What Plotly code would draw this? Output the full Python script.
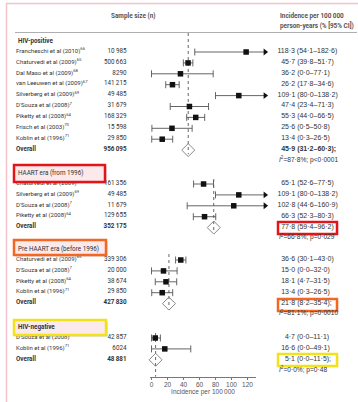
import plotly.graph_objects as go

# ---------------- data ----------------
HIVPOS_STUDIES = ["Francheschi et al (2010)", "Chaturvedi et al (2009)", "Dal Maso et al (2009)",
                  "van Leeuwen et al (2009)", "Silverberg et al (2009)", "D'Souza et al (2008)",
                  "Piketty et al (2008)", "Frisch et al (2003)", "Koblin et al (1996)"]
HIVPOS_REFS = ["66", "65", "68", "67", "69", "7", "64", "70", "71"]
HIVPOS_N = [10985, 500663, 8290, 141215, 49485, 31679, 168329, 15598, 29850]
HIVPOS_EST = [118.3, 45.7, 36.2, 26.2, 109.1, 47.4, 55.3, 25.6, 13.4]
HIVPOS_LO = [54.1, 39.8, 0.0, 17.8, 80.0, 23.4, 44.0, 0.5, 0.3]
HIVPOS_HI = [182.6, 51.7, 77.1, 34.6, 138.2, 71.3, 66.5, 50.8, 26.5]
HIVPOS_TOTAL_N = 956095
HIVPOS_POOLED = [45.9, 31.2, 60.3]
HIVPOS_HET = ["87·8%", "p&lt;0·0001"]

HAART_STUDIES = ["Chaturvedi et al (2009)", "Silverberg et al (2009)", "D'Souza et al (2008)",
                 "Piketty et al (2008)"]
HAART_REFS = ["65", "69", "7", "64"]
HAART_N = [161356, 49485, 11679, 129655]
HAART_EST = [65.1, 109.1, 102.8, 66.3]
HAART_LO = [52.6, 80.0, 44.6, 52.3]
HAART_HI = [77.5, 138.2, 160.9, 80.3]
HAART_TOTAL_N = 352175
HAART_POOLED = [77.8, 59.4, 96.2]
HAART_HET = ["66·8%", "p=0·029"]

PRE_STUDIES = ["Chaturvedi et al (2009)", "D'Souza et al (2008)", "Piketty et al (2008)",
               "Koblin et al (1996)"]
PRE_REFS = ["65", "7", "64", "71"]
PRE_N = [339306, 20000, 38674, 29850]
PRE_EST = [36.6, 15.0, 18.1, 13.4]
PRE_LO = [30.1, 0.0, 4.7, 0.3]
PRE_HI = [43.0, 32.0, 31.5, 26.5]
PRE_TOTAL_N = 427830
PRE_POOLED = [21.8, 8.2, 35.4]
PRE_HET = ["81·1%", "p=0·0010"]

NEG_STUDIES = ["D'Souza et al (2008)", "Koblin et al (1996)"]
NEG_REFS = ["7", "71"]
NEG_N = [42857, 6024]
NEG_EST = [4.7, 16.6]
NEG_LO = [0.0, 0.0]
NEG_HI = [11.1, 49.1]
NEG_TOTAL_N = 48881
NEG_POOLED = [5.1, 0.0, 11.5]
NEG_HET = ["0·0%", "p=0·48"]

GROUP_TITLES = ["<b>HIV-positive</b>", "HAART era (from 1996)", "Pre HAART era (before 1996)",
                "<b>HIV-negative</b>"]
POOLED_SUFFIX = [";", "", ";", ";"]
AXIS_TICKS = [0, 20, 40, 60, 80, 100, 120]
AXIS_TITLE = "Incidence per 100\u2009000"
COL_SAMPLE = "Sample size (n)"
COL_INC = ["Incidence per 100\u2009000", "person-years (% [95% CI])"]

GROUPS = [
    dict(title=GROUP_TITLES[0], studies=HIVPOS_STUDIES, refs=HIVPOS_REFS, n=HIVPOS_N, est=HIVPOS_EST,
         lo=HIVPOS_LO, hi=HIVPOS_HI, total=HIVPOS_TOTAL_N, pooled=HIVPOS_POOLED, het=HIVPOS_HET),
    dict(title=GROUP_TITLES[1], studies=HAART_STUDIES, refs=HAART_REFS, n=HAART_N, est=HAART_EST,
         lo=HAART_LO, hi=HAART_HI, total=HAART_TOTAL_N, pooled=HAART_POOLED, het=HAART_HET),
    dict(title=GROUP_TITLES[2], studies=PRE_STUDIES, refs=PRE_REFS, n=PRE_N, est=PRE_EST,
         lo=PRE_LO, hi=PRE_HI, total=PRE_TOTAL_N, pooled=PRE_POOLED, het=PRE_HET),
    dict(title=GROUP_TITLES[3], studies=NEG_STUDIES, refs=NEG_REFS, n=NEG_N, est=NEG_EST,
         lo=NEG_LO, hi=NEG_HI, total=NEG_TOTAL_N, pooled=NEG_POOLED, het=NEG_HET),
]

# ---------------- layout constants ----------------
W, H = 358, 402
X0_PX, PX_PER = 151.5, 0.8          # pixel of value 0, pixels per unit
AX_L, AX_R = 150.0, 256.0            # visible axis extent (px)
AXIS_Y = 376.7
CLIP_AT = 131.0                      # CIs beyond this get an arrow
ARROW_X = 142.0
HEADER_Y = [41, 173, 249, 327]
DASH_TOP = [33, 179, 254, 333]
FIRST_OFF, STEP = 11.0, 10.9
NAME_X, N_X, CI_X, DIGIT_W = 16, 126.5, 277.5, 3.7

NARROW = "Roboto, sans-serif"
REG = "Liberation Sans, Arial, sans-serif"
TXT = "#333333"
FS_L = 6.0   # left columns
FS_R = 7     # incidence column


def fmt1(v):
    return f"{v:.1f}".replace(".", "·")


def fmt_n(n):
    s = f"{n:,}"
    return s.replace(",", "\u2009") if n >= 10000 else s.replace(",", "")


def v_range(a_px, b_px):
    return [(a_px - X0_PX) / PX_PER, (b_px - X0_PX) / PX_PER]


fig = go.Figure()

wx, wy = [], []
cap_x, cap_y = [], []
arr_x, arr_y = [], []
sq_x, sq_y = [], []
dia_x, dia_y = [], []
name_t, name_y = [], []
n_t, n_y = [], []
ci_t, ci_xp, ci_y = [], [], []
ov_n_t, ov_y = [], []
pool_t, pool_xp = [], []
het_t, het_y = [], []
annots = []

for gi, g in enumerate(GROUPS):
    hy = HEADER_Y[gi]
    annots.append(dict(x=NAME_X, y=hy, xref="x3", yref="y", text=g["title"], showarrow=False,
                       xanchor="left", yanchor="middle",
                       font=dict(family=NARROW, size=6.3, color=TXT)))
    k = len(g["studies"])
    for i in range(k):
        y = hy + FIRST_OFF + i * STEP
        e, lo, hi = g["est"][i], g["lo"][i], g["hi"][i]
        right = hi if hi <= CLIP_AT else ARROW_X
        wx += [lo, right, None]
        wy += [y, y, None]
        cap_x.append(lo); cap_y.append(y)
        if hi <= CLIP_AT:
            cap_x.append(hi); cap_y.append(y)
        else:
            arr_x.append(ARROW_X); arr_y.append(y)
        sq_x.append(e); sq_y.append(y)
        name_t.append(f"{g['studies'][i]}<sup>{g['refs'][i]}</sup>")
        name_y.append(y - 0.8)
        n_t.append(fmt_n(g["n"][i])); n_y.append(y - 0.8)
        ci_t.append(f"{fmt1(e)} ({fmt1(lo)}–{fmt1(hi)})")
        ci_xp.append(CI_X + (3 - len(str(int(e)))) * DIGIT_W)
        ci_y.append(y - 0.8)
    oy = hy + FIRST_OFF + k * STEP
    pe, plo, phi = g["pooled"]
    dia_x.append(pe); dia_y.append(oy)
    ov_n_t.append(fmt_n(g["total"])); ov_y.append(oy - 0.8)
    ptxt = f"{fmt1(pe)} ({fmt1(plo)}–{fmt1(phi)}){POOLED_SUFFIX[gi]}"
    pool_t.append(f"<b>{ptxt}</b>" if gi == 0 else ptxt)
    pool_xp.append(CI_X + (3 - len(str(int(pe)))) * DIGIT_W)
    het_t.append(f"<i>I</i><sup>2</sup>={g['het'][0]}; {g['het'][1]}")
    het_y.append(oy + STEP - 0.8)
    bottom = AXIS_Y if gi == len(GROUPS) - 1 else oy + 4
    fig.add_trace(go.Scatter(x=[pe, pe], y=[DASH_TOP[gi], bottom], mode="lines",
                             line=dict(color="#666666", width=1, dash="dot"), hoverinfo="skip"))

# whiskers, caps, arrows, squares, diamonds
fig.add_trace(go.Scatter(x=wx, y=wy, mode="lines", line=dict(color="#555555", width=0.9),
                         hoverinfo="skip"))
fig.add_trace(go.Scatter(x=cap_x, y=cap_y, mode="markers", hoverinfo="skip",
                         marker=dict(symbol="line-ns", size=5, line=dict(color="#555555", width=0.9))))
fig.add_trace(go.Scatter(x=arr_x, y=arr_y, mode="markers", hoverinfo="skip",
                         marker=dict(symbol="triangle-right", size=6, color="#111111")))
fig.add_trace(go.Scatter(x=sq_x, y=sq_y, mode="markers", hoverinfo="skip",
                         marker=dict(symbol="square", size=5.5, color="#111111")))
fig.add_trace(go.Scatter(x=dia_x, y=dia_y, mode="markers", hoverinfo="skip",
                         marker=dict(symbol="diamond-open", size=10, color="#888888",
                                     line=dict(width=1, color="#888888"))))


def text_trace(xs, ys, texts, pos, family, size):
    return go.Scatter(x=xs, y=ys, xaxis="x3", mode="text", text=texts, textposition=pos,
                      hoverinfo="skip", marker=dict(size=0),
                      textfont=dict(family=family, size=size, color=TXT))


fig.add_trace(text_trace([NAME_X] * len(name_t), name_y, name_t, "middle right", NARROW, FS_L))
fig.add_trace(text_trace([N_X] * len(n_t), n_y, n_t, "middle left", NARROW, 6.3))
fig.add_trace(text_trace(ci_xp, ci_y, ci_t, "middle right", REG, FS_R))
fig.add_trace(text_trace([NAME_X] * len(ov_y), ov_y, ["<b>Overall</b>"] * len(ov_y), "middle right", NARROW, 6.3))
fig.add_trace(text_trace([N_X] * len(ov_y), ov_y, [f"<b>{t}</b>" for t in ov_n_t], "middle left", NARROW, 6.3))
fig.add_trace(text_trace(pool_xp, ov_y, pool_t, "middle right", REG, FS_R))
fig.add_trace(text_trace([CI_X + 1.5] * len(het_y), het_y, het_t, "middle right", REG, 6.6))

# dummy trace carrying the visible axis
fig.add_trace(go.Scatter(x=AXIS_TICKS, y=[AXIS_Y] * len(AXIS_TICKS), xaxis="x2", mode="markers",
                         marker=dict(opacity=0), hoverinfo="skip"))

# column headers
HDR_FONT = dict(family=NARROW, size=6.4, color="#555555")
annots += [
    dict(x=133, y=16, xref="x3", yref="y", text=f"<b>{COL_SAMPLE}</b>", showarrow=False,
         xanchor="center", yanchor="middle", font=HDR_FONT),
    dict(x=CI_X, y=15.5, xref="x3", yref="y", text=f"<b>{COL_INC[0]}</b>", showarrow=False,
         xanchor="left", yanchor="middle", font=HDR_FONT),
    dict(x=CI_X, y=25, xref="x3", yref="y", text=f"<b>{COL_INC[1]}</b>", showarrow=False,
         xanchor="left", yanchor="middle", font=HDR_FONT),
]

# shapes
shapes = [
    dict(type="line", xref="x3", yref="y", x0=6.5, x1=6.5, y0=3, y1=H, line=dict(color="#f3c2cb", width=1.5)),
    dict(type="line", xref="x3", yref="y", x0=6, x1=W, y0=3.5, y1=3.5, line=dict(color="#f3c2cb", width=1.5)),
    dict(type="line", xref="x3", yref="y", x0=15, x1=357, y0=32.5, y1=32.5, line=dict(color="#9a9a9a", width=0.8)),
]
HEADER_BOXES = [(14, 165, 105, 182, "#e3151b"), (14, 240, 106, 255, "#f26722"), (14, 320, 106, 335, "#f2e21a")]
VALUE_BOXES = [(278, 222, 337, 234, "#e3151b"), (278, 299, 337, 311, "#f26722"), (278, 354, 337, 366, "#f2e21a")]
for x0, y0, x1, y1, c in HEADER_BOXES:
    shapes.append(dict(type="rect", xref="x3", yref="y", x0=x0 + 1.5, x1=x1 + 1.5, y0=y0 + 1.5, y1=y1 + 1.5,
                       line=dict(width=0), fillcolor="rgba(0,0,0,0.22)", layer="above"))
    shapes.append(dict(type="rect", xref="x3", yref="y", x0=x0, x1=x1, y0=y0, y1=y1,
                       line=dict(color=c, width=2.5), fillcolor="#fbe9eb", layer="above"))
for x0, y0, x1, y1, c in VALUE_BOXES:
    shapes.append(dict(type="rect", xref="x3", yref="y", x0=x0 + 1.2, x1=x1 + 1.2, y0=y0 + 1.2, y1=y1 + 1.2,
                       line=dict(width=0), fillcolor="rgba(0,0,0,0.18)", layer="below"))
    shapes.append(dict(type="rect", xref="x3", yref="y", x0=x0, x1=x1, y0=y0, y1=y1,
                       line=dict(color=c, width=2.5), fillcolor="#ffffff", layer="below"))

fig.update_layout(
    width=W, height=H, margin=dict(l=0, r=0, t=0, b=0),
    paper_bgcolor="white", plot_bgcolor="rgba(0,0,0,0)", showlegend=False,
    xaxis=dict(domain=[0, 1], range=v_range(0, W), visible=False, fixedrange=True),
    xaxis3=dict(domain=[0, 1], range=[0, W], overlaying="x", visible=False, fixedrange=True),
    xaxis2=dict(domain=[AX_L / W, AX_R / W], range=v_range(AX_L, AX_R), anchor="free",
                position=1 - AXIS_Y / H, showline=True, linecolor="#777777", linewidth=0.8,
                ticks="outside", ticklen=2, tickwidth=0.8, tickcolor="#777777", tickvals=AXIS_TICKS,
                tickfont=dict(family=REG, size=6.5, color="#555555"), showgrid=False, zeroline=False,
                title=dict(text=AXIS_TITLE, font=dict(family=REG, size=6.5, color="#555555"), standoff=0),
                fixedrange=True),
    yaxis=dict(domain=[0, 1], range=[H, 0], visible=False, fixedrange=True),
    shapes=shapes, annotations=annots,
)

fig.write_html("out.html", config={"displayModeBar": False},
               post_script="document.body.style.margin='0px';")
